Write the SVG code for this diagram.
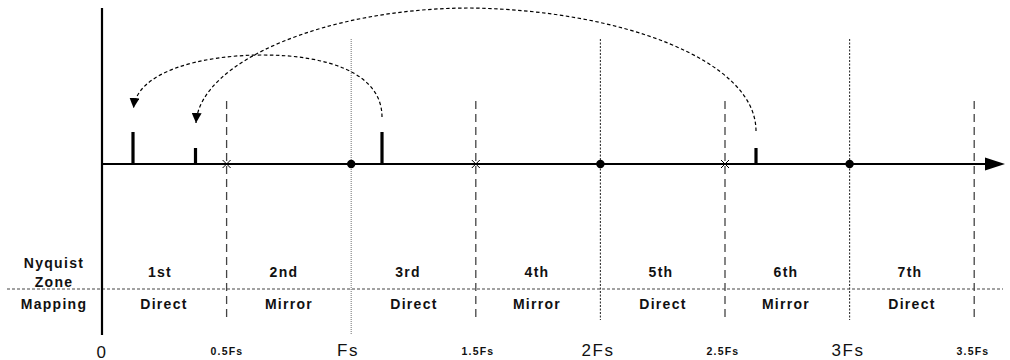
<svg xmlns="http://www.w3.org/2000/svg" width="1010" height="360" viewBox="0 0 1010 360">
<defs>
<style>
.axis{stroke:#000;stroke-width:2.2;fill:none}
.half{stroke:#444;stroke-width:1.3;stroke-dasharray:8,5;fill:none}
.fs1{stroke:#888;stroke-width:1.2;stroke-dasharray:1,1;fill:none}
.fsn{stroke:#333;stroke-width:1.1;stroke-dasharray:2,1.5;fill:none}
.tab{stroke:#444;stroke-width:1.1;stroke-dasharray:3,2;fill:none}
.sig{stroke:#000;stroke-width:3.2;fill:none}
.arc{stroke:#000;stroke-width:1.2;stroke-dasharray:3.5,2.5;fill:none}
.xm{stroke:#000;stroke-width:1;fill:none}
.zt{font-family:"Liberation Sans",Arial,sans-serif;font-weight:bold;font-size:14px;letter-spacing:1.3px;text-anchor:middle;fill:#111}
.big{font-family:"Liberation Sans",Arial,sans-serif;font-size:17px;letter-spacing:1.5px;text-anchor:middle;fill:#111}
.sm{font-family:"Liberation Sans",Arial,sans-serif;font-weight:bold;font-size:10.5px;letter-spacing:1.2px;text-anchor:middle;fill:#111}
</style>
<marker id="ah" viewBox="0 0 10 10" refX="10" refY="5" markerWidth="10" markerHeight="10" markerUnits="userSpaceOnUse" orient="auto">
<path d="M0,0 L10,5 L0,10 Z" fill="#000"/>
</marker>
</defs>
<g id="grid">
<line class="half" x1="226.6" y1="101" x2="226.6" y2="320"/>
<line class="fs1" x1="351.2" y1="39" x2="351.2" y2="335"/>
<line class="half" x1="475.8" y1="101" x2="475.8" y2="320"/>
<line class="fsn" x1="600.4" y1="39" x2="600.4" y2="320"/>
<line class="half" x1="725" y1="101" x2="725" y2="320"/>
<line class="fsn" x1="849.6" y1="39" x2="849.6" y2="320"/>
<line class="half" x1="974.2" y1="101" x2="974.2" y2="320"/>
<line class="tab" x1="7" y1="289" x2="1003" y2="289"/>
</g>
<g id="axes">
<line class="axis" x1="102" y1="8" x2="102" y2="335" stroke-width="2.6"/>
<line class="axis" x1="102" y1="164" x2="986" y2="164"/>
<path d="M985,157.5 L1005,164 L985,170.5 Z" fill="#000"/>
</g>
<g id="markers">
<path class="xm" d="M222.6,160 L230.6,168 M230.6,160 L222.6,168"/>
<path class="xm" d="M471.8,160 L479.8,168 M479.8,160 L471.8,168"/>
<path class="xm" d="M721,160 L729,168 M729,160 L721,168"/>
<circle cx="351.2" cy="164" r="4.2" fill="#000"/>
<circle cx="600.4" cy="164" r="4.2" fill="#000"/>
<circle cx="849.6" cy="164" r="4.2" fill="#000"/>
</g>
<g id="signals">
<line class="sig" x1="133" y1="132" x2="133" y2="164"/>
<line class="sig" x1="195.5" y1="148" x2="195.5" y2="164"/>
<line class="sig" x1="382" y1="132" x2="382" y2="164"/>
<line class="sig" x1="756" y1="148" x2="756" y2="164"/>
</g>
<g id="connectors">
<path class="arc" d="M382,117 C382,72 325,55 263,55 C200,55 137,72 133.5,108" marker-end="url(#ah)"/>
<path class="arc" d="M756,131 C756,60 620,10 470,8 C330,8 200,60 196,123" marker-end="url(#ah)"/>
</g>
<g id="table-labels">
<text class="zt" x="54" y="268">Nyquist</text>
<text class="zt" x="54" y="287">Zone</text>
<text class="zt" x="54" y="309">Mapping</text>
<text class="zt" x="160" y="277">1st</text>
<text class="zt" x="284" y="277">2nd</text>
<text class="zt" x="408" y="277">3rd</text>
<text class="zt" x="537" y="277">4th</text>
<text class="zt" x="661" y="277">5th</text>
<text class="zt" x="786" y="277">6th</text>
<text class="zt" x="910" y="277">7th</text>
<text class="zt" x="164" y="309">Direct</text>
<text class="zt" x="289" y="309">Mirror</text>
<text class="zt" x="414" y="309">Direct</text>
<text class="zt" x="537" y="309">Mirror</text>
<text class="zt" x="663" y="309">Direct</text>
<text class="zt" x="786" y="309">Mirror</text>
<text class="zt" x="912" y="309">Direct</text>
</g>
<g id="axis-labels">
<text class="big" x="102" y="358">0</text>
<text class="big" x="348" y="356">Fs</text>
<text class="big" x="598" y="356">2Fs</text>
<text class="big" x="848" y="356">3Fs</text>
<text class="sm" x="227" y="355">0.5Fs</text>
<text class="sm" x="478" y="355">1.5Fs</text>
<text class="sm" x="723" y="355">2.5Fs</text>
<text class="sm" x="973" y="355">3.5Fs</text>
</g>
</svg>
